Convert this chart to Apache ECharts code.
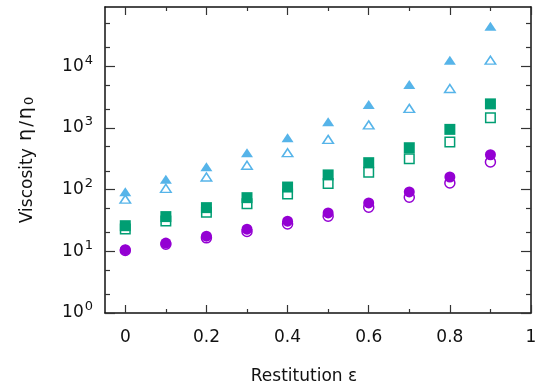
<!DOCTYPE html>
<html>
<head>
<meta charset="utf-8">
<script src="https://cdn.jsdelivr.net/npm/echarts@6/dist/echarts.min.js"></script>
<style>
  html, body { margin: 0; padding: 0; background: #fff; }
  #chart { width: 548px; height: 392px; }
</style>
</head>
<body>
<div id="chart"></div>
<script>
const eps = [0, 0.1, 0.2, 0.3, 0.4, 0.5, 0.6, 0.7, 0.8, 0.9];
const triFilled = [92, 147, 235, 396, 692, 1256, 2400, 5050, 12500, 44300];
const triOpen = [70, 105, 160, 248, 396, 652, 1120, 2070, 4350, 12500];
const sqFilled = [26, 36.5, 51, 74, 110, 173, 273, 477, 946, 2450];
const sqOpen = [23, 31, 43, 59, 85, 125, 191, 316, 590, 1460];
const circFilled = [10.6, 13.6, 17.6, 22.8, 30.8, 41.9, 60.8, 91.5, 160, 367];
const circOpen = [10.3, 13, 16.5, 20.9, 27.8, 37, 51.8, 75, 128, 280];

const xMajor = [0, 0.2, 0.4, 0.6, 0.8, 1];
const xMinor = [0.1, 0.3, 0.5, 0.7, 0.9];
const yMajor = [1, 10, 100, 1000, 10000];
const yMinor = [2, 5, 20, 50, 200, 500, 2000, 5000, 20000, 50000];

const font = 'DejaVu Sans';
const ink = '#111';
const blue = '#56b4e9';
const green = '#009e73';
const purple = '#9400d3';

const chart = echarts.init(document.getElementById('chart'));

const xBase = { type: 'value', min: -0.05, max: 1, splitLine: { show: false } };
const yBase = { type: 'log', logBase: 10, min: 1, max: 91000, splitLine: { show: false } };
const line = { show: true, onZero: false, lineStyle: { color: ink, width: 1.5 } };
const noLine = { show: false, onZero: false };
const tick = (values, length) => ({
  show: true, inside: true, length, customValues: values,
  lineStyle: { color: '#333', width: 1.2 },
});

const makeSeries = (data, symbol, size, color, filled) => ({
  type: 'scatter',
  xAxisIndex: 0,
  yAxisIndex: 0,
  symbol,
  symbolSize: size,
  data: eps.map((x, i) => [x, data[i]]),
  itemStyle: filled
    ? { color, opacity: 1 }
    : { color: 'rgba(255,255,255,0)', borderColor: color, borderWidth: 1.5, opacity: 1 },
  emphasis: { disabled: true },
});

const titleRich = (size, pad) => ({
  fontFamily: font, fontSize: size, color: ink, verticalAlign: 'bottom', lineHeight: 22, padding: pad,
});

chart.setOption({
  animation: false,
  grid: { left: 105, right: 17, top: 7, bottom: 79 },
  xAxis: [
    {
      ...xBase, position: 'bottom',
      axisLine: line,
      axisTick: tick(xMajor, 8),
      axisLabel: {
        customValues: xMajor, margin: 16, color: ink, fontFamily: font, fontSize: 17,
        formatter: (v) => String(v),
      },
      name: 'Restitution ε', nameLocation: 'middle', nameGap: 55,
      nameTextStyle: { color: ink, fontFamily: font, fontSize: 17, padding: [0, 28, 0, 0] },
    },
    { ...xBase, position: 'bottom', axisLine: noLine, axisTick: tick(xMinor, 4), axisLabel: { show: false } },
    { ...xBase, position: 'top', axisLine: line, axisTick: tick(xMajor, 8), axisLabel: { show: false } },
    { ...xBase, position: 'top', axisLine: noLine, axisTick: tick(xMinor, 4), axisLabel: { show: false } },
  ],
  yAxis: [
    {
      ...yBase, position: 'left',
      axisLine: line,
      axisTick: tick(yMajor, 10),
      axisLabel: {
        customValues: yMajor, margin: 12, color: ink, fontFamily: font, fontSize: 17,
        formatter: (v) => '10{sup|' + Math.round(Math.log10(v)) + '}',
        rich: {
          sup: { fontFamily: font, fontSize: 13, color: ink, verticalAlign: 'top', padding: [0, 0, 12, 1] },
        },
      },
      name: '{t|Viscosity }{g|η}{t|/}{g|η}{sub|0}', nameLocation: 'middle', nameGap: 69,
      nameTextStyle: {
        color: ink, fontFamily: font, fontSize: 17,
        rich: {
          t: titleRich(17, [0, 0, 0, 0]),
          g: titleRich(19, [0, 2, 0, 2]),
          sub: titleRich(13, [0, 0, 0, 0]),
        },
      },
    },
    { ...yBase, position: 'left', axisLine: noLine, axisTick: tick(yMinor, 5), axisLabel: { show: false } },
    { ...yBase, position: 'right', axisLine: line, axisTick: tick(yMajor, 10), axisLabel: { show: false } },
    { ...yBase, position: 'right', axisLine: noLine, axisTick: tick(yMinor, 5), axisLabel: { show: false } },
  ],
  series: [
    makeSeries(circFilled, 'circle', 11, purple, true),
    makeSeries(circOpen, 'circle', 10, purple, false),
    makeSeries(sqFilled, 'rect', 11, green, true),
    makeSeries(sqOpen, 'rect', 9.5, green, false),
    makeSeries(triFilled, 'triangle', [12, 9], blue, true),
    makeSeries(triOpen, 'triangle', [10.5, 8], blue, false),
  ],
});
</script>
</body>
</html>
